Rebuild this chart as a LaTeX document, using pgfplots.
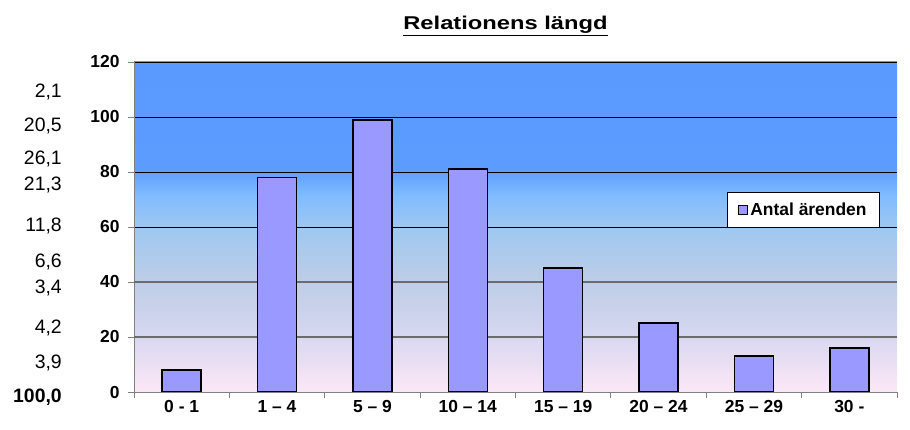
\documentclass[border=0pt]{standalone}
\usepackage{pgfplots}
\pgfplotsset{compat=1.18}
\usepackage{fontspec}
\setmainfont{Liberation Sans}
\newfontfamily\titlefont{Liberation Sans}[FakeStretch=1.28]
\definecolor{barfill}{RGB}{153,153,255}
\definecolor{bgA}{RGB}{250,232,248}
\definecolor{bgB}{RGB}{245,228,245}
\definecolor{bgC}{RGB}{215,215,240}
\definecolor{bgD}{RGB}{190,205,230}
\definecolor{bgE}{RGB}{160,200,240}
\definecolor{bgF}{RGB}{128,188,255}
\definecolor{bgG}{RGB}{92,156,255}
\definecolor{bgH}{RGB}{90,154,255}
\pgfdeclareverticalshading{bgshade}{100bp}{color(0bp)=(bgA); color(25bp)=(bgA); color(27bp)=(bgB); color(33.6bp)=(bgC); color(41.7bp)=(bgD); color(49.7bp)=(bgE); color(54.8bp)=(bgF); color(58.8bp)=(bgG); color(75bp)=(bgH); color(100bp)=(bgH)}
\begin{document}
\begin{tikzpicture}
\useasboundingbox (0,0) rectangle (910bp,430bp);
\begin{axis}[
  at={(134bp,38bp)}, anchor=south west,
  scale only axis, width=763bp, height=330bp,
  xmin=-0.5, xmax=7.5, ymin=0, ymax=120,
  axis background/.style={shading=bgshade},
  axis x line*=bottom, axis y line*=left,
  axis line style={draw=gray, line width=0.8bp},
  tick style={draw=gray, line width=0.8bp},
  tick align=outside,
  major tick length=6bp,
  ytick={0,60,80,100,120},
  ymajorgrids,
  grid style={black, line width=0.9bp},
  extra y ticks={20,40},
  extra y tick labels={20,40},
  extra y tick style={grid style={draw=gray!85!black, line width=1.2bp}},
  xtick={-0.5,0.5,...,7.5},
  xticklabels={},
  extra x ticks={0,1,2,3,4,5,6,7},
  extra x tick labels={0 - 1,1 -- 4,5 -- 9,10 -- 14,15 -- 19,20 -- 24,25 -- 29,30 -},
  extra x tick style={major tick length=0pt, xmajorgrids=false},
  ticklabel style={font=\bfseries\fontsize{17.5}{20}\selectfont},
  /pgf/number format/assume math mode=true,
  yticklabel style={xshift=-5bp},
  xticklabel style={yshift=-5bp},
  legend style={at={(0.777,0.606)}, anchor=north west, draw=black, line width=1bp,
    fill=white, font=\bfseries\fontsize{17.5}{20}\selectfont,
    inner xsep=11bp, inner ysep=8.5bp},
  legend cell align=left,
  legend image code/.code={\draw[fill=barfill, draw=black, line width=1bp] (0bp,-4.5bp) rectangle (9bp,4.5bp);},
]
\addplot[ybar, bar width=39bp, fill=barfill, draw=black, line width=1.6bp] coordinates {
(0,8) (1,78) (2,99) (3,81) (4,45) (5,25) (6,13) (7,16)};
\addlegendentry{Antal ärenden}
\end{axis}
\node[anchor=base, font=\titlefont\bfseries\fontsize{18.6}{22}\selectfont] at (505.5bp,400bp) {\underline{Relationens längd}};
\begin{scope}[every node/.style={anchor=east, font=\fontsize{19.5}{22}\selectfont, inner sep=0pt}]
\node at (62bp,338bp) {2,1};
\node at (62bp,304bp) {20,5};
\node at (62bp,271bp) {26,1};
\node at (62bp,245bp) {21,3};
\node at (62bp,204bp) {11,8};
\node at (62bp,168bp) {6,6};
\node at (62bp,142bp) {3,4};
\node at (62bp,102bp) {4,2};
\node at (62bp,67bp) {3,9};
\node[font=\bfseries\fontsize{19.5}{22}\selectfont] at (62bp,33bp) {100,0};
\end{scope}
\end{tikzpicture}
\end{document}
